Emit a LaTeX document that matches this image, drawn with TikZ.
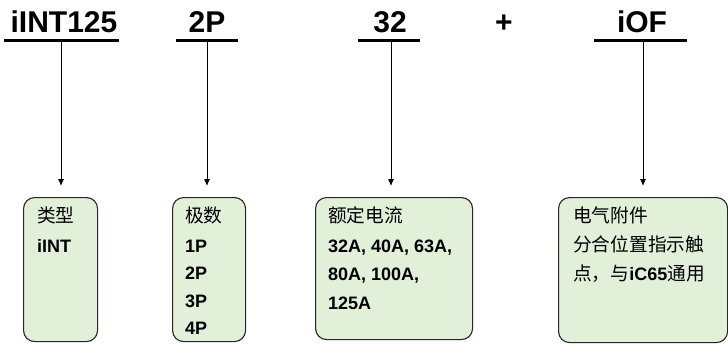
\documentclass[tikz,border=0pt]{standalone}
\usepackage{fontspec}
\setmainfont{Liberation Sans}
\newfontfamily\cjk{Noto Sans CJK SC}
\usetikzlibrary{arrows.meta}
\definecolor{boxfill}{RGB}{226,239,217}
\begin{document}
\begin{tikzpicture}[x=1pt,y=-1pt,
  head/.style={font=\fontsize{30}{34}\selectfont\bfseries, inner sep=0pt, anchor=base},
  uline/.style={line width=3pt},
  conn/.style={line width=0.9pt, -{Latex[length=7pt,width=6pt]}, shorten >=11pt},
  gbox/.style={draw=black!85, line width=1.1pt, fill=boxfill, rounded corners=11pt, anchor=north west, inner sep=0pt},
  btxt/.style={inner sep=0pt, anchor=base west, font=\fontsize{18}{20}\selectfont\bfseries},
  ctxt/.style={inner sep=0pt, anchor=base west, font=\fontsize{18.7}{20}\selectfont\cjk}
]
\useasboundingbox (0,0) rectangle (728,343);
% headers
\node[head] (h1) at (64,32) {iINT125};
\node[head] (h2) at (207,32) {2P};
\node[head] (h3) at (390,32) {32};
\node[head] (plus) at (504,32) {+};
\node[head] (h4) at (642,32) {iOF};
% underlines
\coordinate (u1) at (61,41);
\coordinate (u2) at (207,41);
\coordinate (u3) at (391,41);
\coordinate (u4) at (643,41);
\draw[uline] (4,40) -- (119,40);
\draw[uline] (176,40) -- (238,40);
\draw[uline] (358,40) -- (420,40);
\draw[uline] (594,40) -- (687,40);
% boxes
\node[gbox, minimum width=74pt, minimum height=144pt] (b1) at (23,197) {};
\node[gbox, minimum width=73pt, minimum height=144pt] (b2) at (172,197) {};
\node[gbox, minimum width=157pt, minimum height=142pt] (b3) at (315,197) {};
\node[gbox, minimum width=169pt, minimum height=145pt] (b4) at (558,197) {};
% connectors
\draw[conn] (u1) -- (u1 |- b1.north);
\draw[conn] (u2) -- (u2 |- b2.north);
\draw[conn] (u3) -- (u3 |- b3.north);
\draw[conn] (u4) -- (u4 |- b4.north);
% box 1
\node[ctxt] (t11) at (37,222) {类型};
\node[btxt] (t12) at (37,252) {iINT};
% box 2
\node[ctxt] (t21) at (185,222) {极数};
\node[btxt] (t22) at (185,252) {1P};
\node[btxt] (t23) at (185,279.5) {2P};
\node[btxt] (t24) at (185,307) {3P};
\node[btxt] (t25) at (185,334) {4P};
% box 3
\node[ctxt] (t31) at (328,222) {额定电流};
\node[btxt] (t32) at (328,252) {32A, 40A, 63A,};
\node[btxt] (t33) at (328,280.5) {80A, 100A,};
\node[btxt] (t34) at (328,309) {125A};
% box 4
\node[ctxt] (t41) at (573,222) {电气附件};
\node[ctxt] (t42) at (573,251) {分合位置指示触};
\node[ctxt] (t43) at (573,280) {点，与{\rmfamily\bfseries\fontsize{18}{20}\selectfont iC65}通用};
\end{tikzpicture}
\end{document}
